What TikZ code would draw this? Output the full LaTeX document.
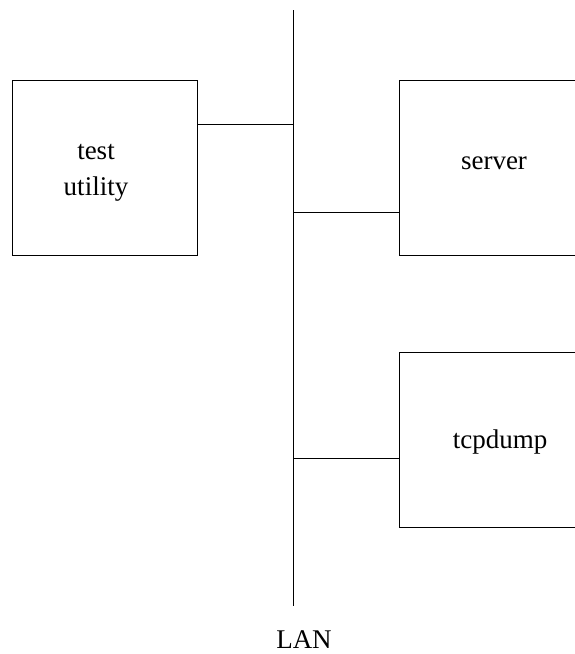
\documentclass[tikz,border=0pt]{standalone}
\usepackage{fontspec}
\setmainfont{Liberation Serif}
\usepackage{tikz}
\usetikzlibrary{positioning}

\tikzset{
  hostbox/.style={draw, line width=1pt, rectangle, minimum height=175pt},
  hosttext/.style={anchor=base, inner sep=0pt, align=center,
    font=\fontsize{27}{36}\selectfont},
  wire/.style={line width=1pt}
}

\begin{document}
\begin{tikzpicture}[x=1pt,y=-1pt]
		\useasboundingbox (0,0) rectangle (574,654);

		% Hosty
		\node[hostbox, minimum width=185pt] (test) at (104.5,167.5) {};
		\node[hostbox, minimum width=202pt] (server) at (500,167.5) {};
		\node[hostbox, minimum width=202pt] (tcpdump) at (500,439.5) {};

		% Podpisy hostow
		\node[hosttext] (testtxt) at (96,195) {test\\utility};
		\node[hosttext] (servertxt) at (494,169) {server};
		\node[hosttext] (tcpdumptxt) at (500,448) {tcpdump};

		% Magistrala LAN
		\coordinate (bustop) at (293,10);
		\coordinate (busbot) at (293,606);
		\draw[wire] (bustop) -- (busbot);
		\node[hosttext] (lan) at (304,648) {LAN};

		% Odgalezienia
		\coordinate (tap1) at (293,124);
		\coordinate (tap2) at (293,212);
		\coordinate (tap3) at (293,458);
		\draw[wire] (test.east |- tap1) -- (tap1);
		\draw[wire] (tap2) -- (server.west |- tap2);
		\draw[wire] (tap3) -- (tcpdump.west |- tap3);

	\end{tikzpicture}
\end{document}
